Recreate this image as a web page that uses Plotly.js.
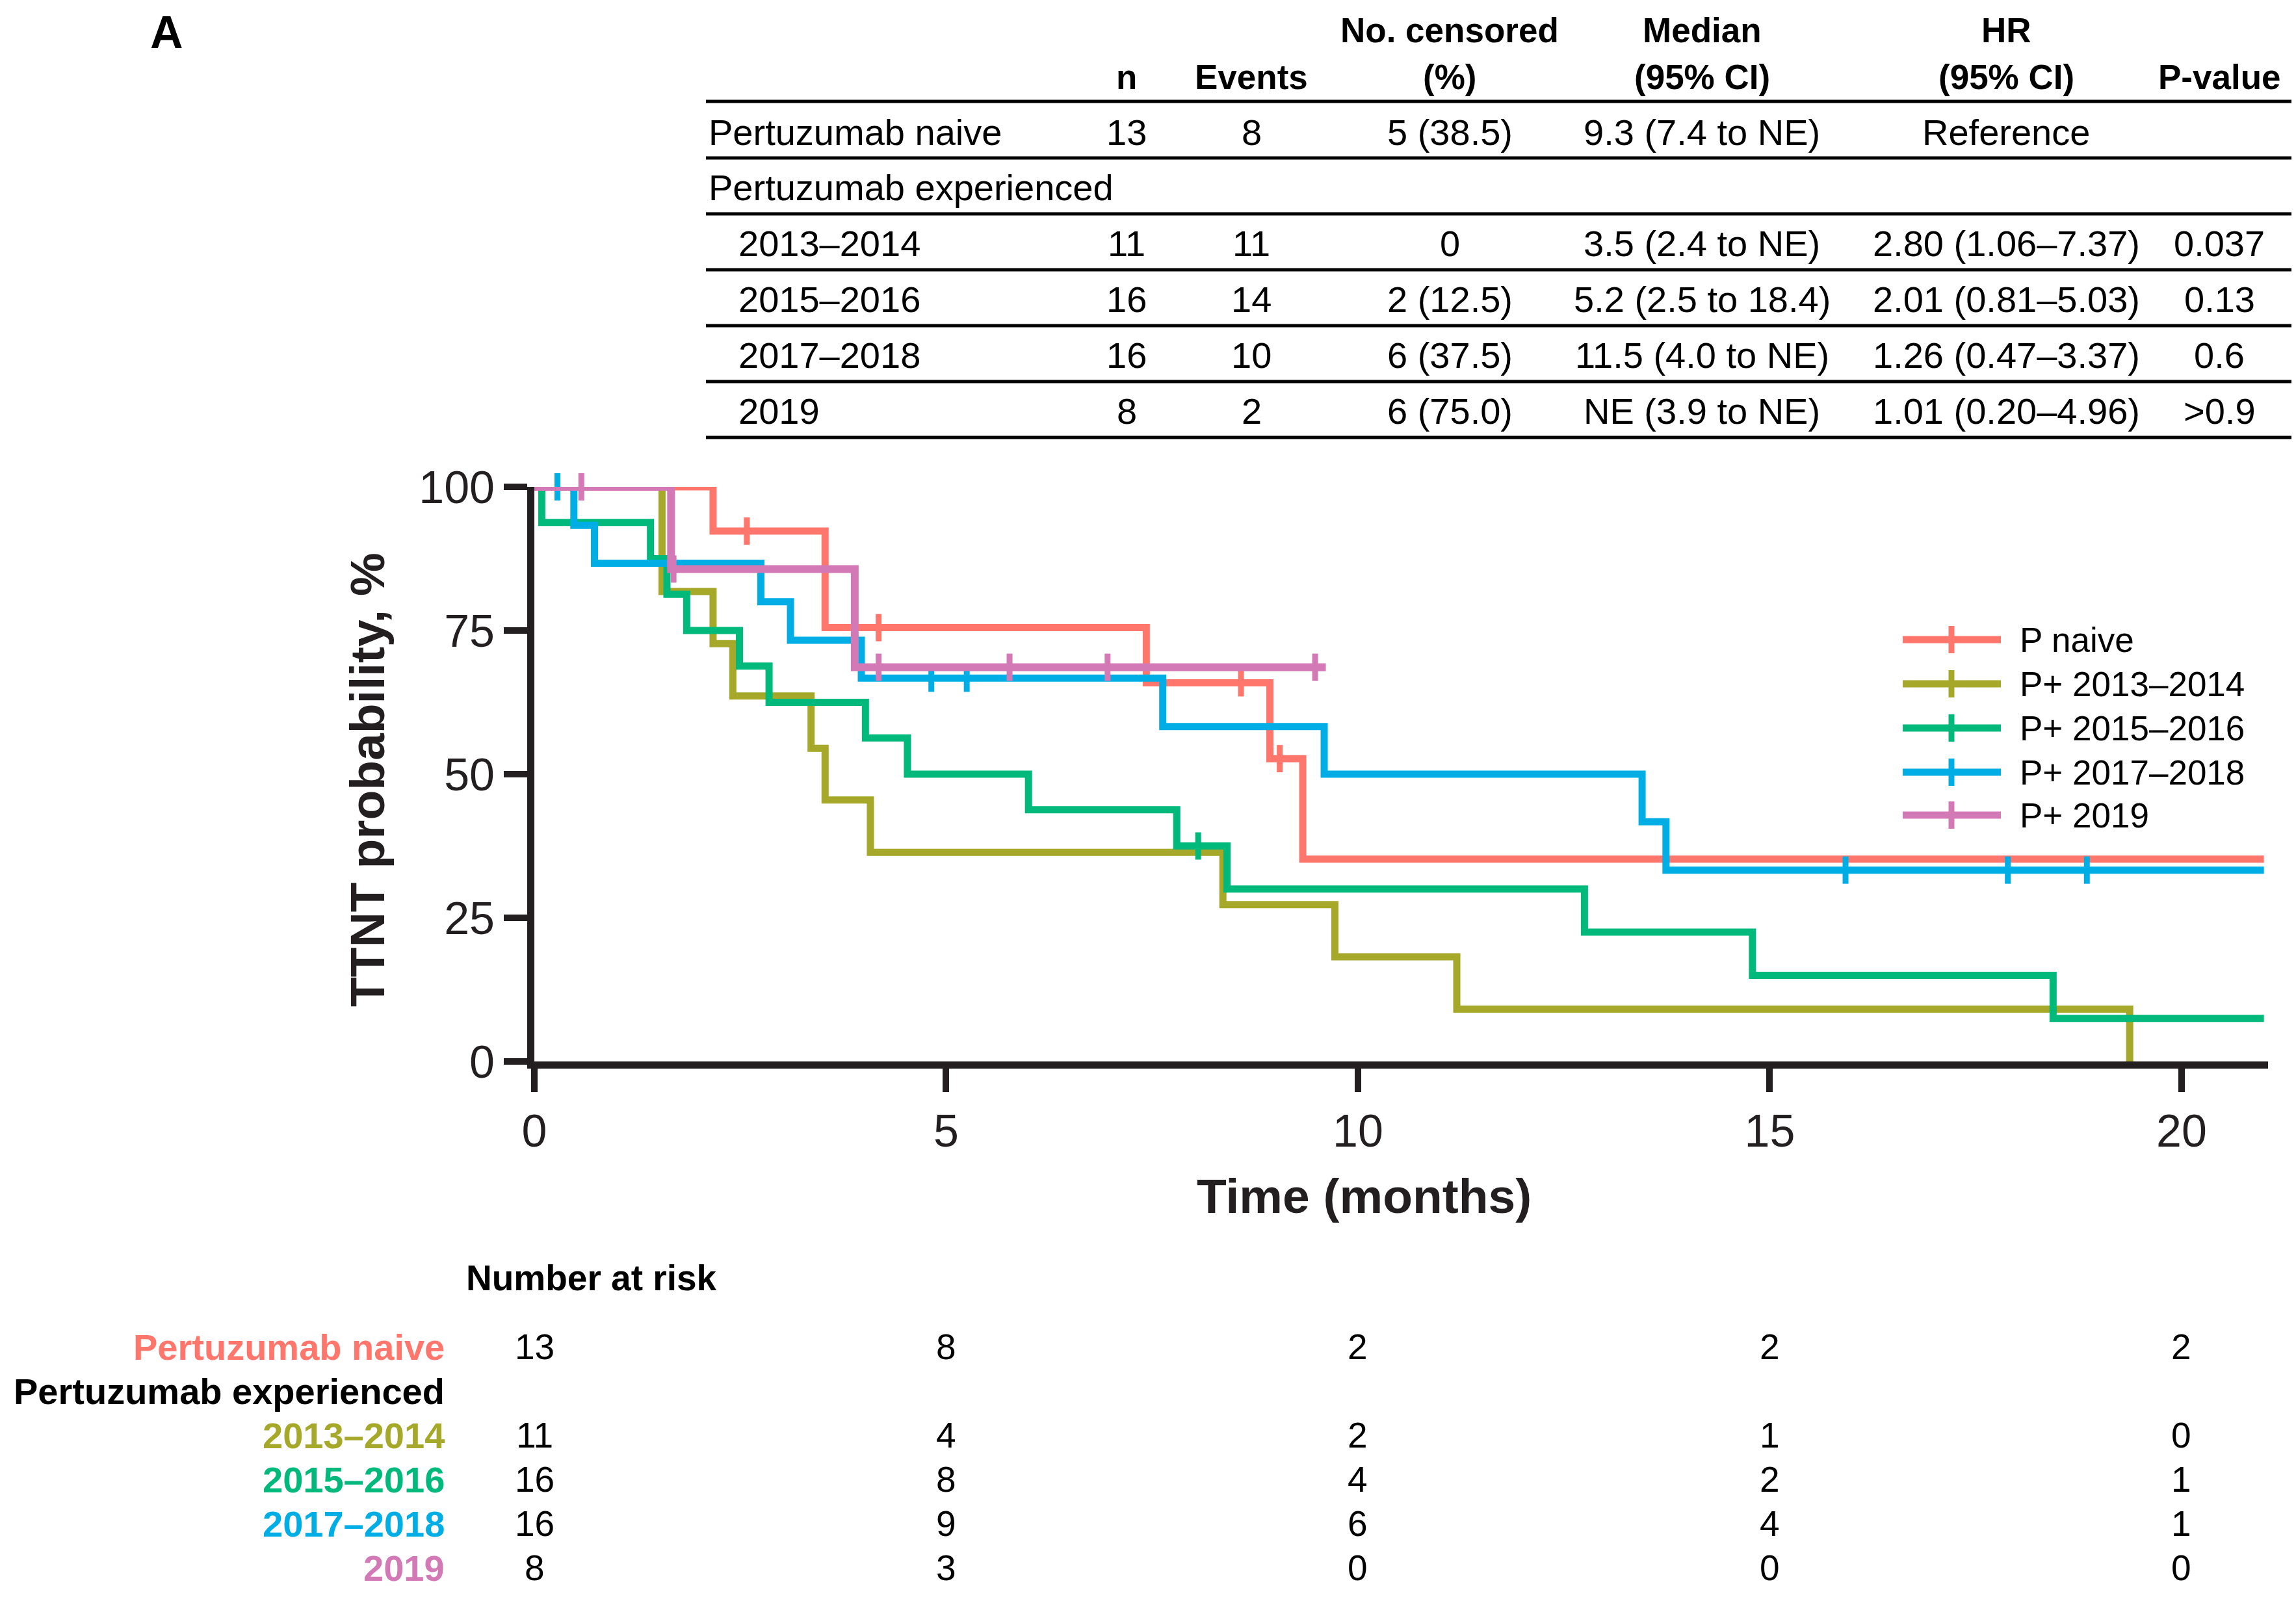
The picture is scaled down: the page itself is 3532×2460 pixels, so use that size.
<!DOCTYPE html>
<html><head><meta charset="utf-8">
<script src="https://cdn.plot.ly/plotly-3.0.1.min.js"></script>
<style>html,body{margin:0;padding:0;background:#fff}</style>
</head><body><div id="chart" style="width:3532px;height:2460px"></div>
<script>
// ---------------- data ----------------
const seriesNames  = ['P naive', 'P+ 2013–2014', 'P+ 2015–2016', 'P+ 2017–2018', 'P+ 2019'];
const riskLabels   = ['Pertuzumab naive', '2013–2014', '2015–2016', '2017–2018', '2019'];
const seriesColors = ['#ff766c', '#a5a829', '#00b97a', '#00aee5', '#d379b5'];

// Kaplan-Meier steps (time in months, TTNT probability %)
const naiveTime = [0, 2.17, 3.53, 7.43, 8.93, 9.33, 21.0];
const naiveSurv = [100, 92.3, 75.5, 65.9, 52.7, 35.2, 35.2];
const naiveCens = [2.58, 4.18, 8.58, 9.05];

const p1314Time = [0, 1.55, 2.17, 2.41, 3.36, 3.53, 4.08, 8.36, 9.72, 11.2, 19.37];
const p1314Surv = [100, 81.8, 72.7, 63.6, 54.5, 45.5, 36.4, 27.3, 18.2, 9.1, 0];
const p1314Cens = [];

const p1516Time = [0, 0.09, 1.41, 1.61, 1.85, 2.49, 2.85, 4.02, 4.53, 6.00, 7.80, 8.41, 12.75, 14.79, 18.44, 21.0];
const p1516Surv = [100, 93.8, 87.5, 81.3, 75.0, 68.8, 62.5, 56.3, 50.0, 43.8, 37.5, 30.0, 22.5, 15.0, 7.5, 7.5];
const p1516Cens = [8.06];

const p1718Time = [0, 0.48, 0.73, 2.75, 3.11, 3.97, 7.63, 9.59, 13.45, 13.74, 21.0];
const p1718Surv = [100, 93.3, 86.7, 80.0, 73.3, 66.7, 58.3, 50.0, 41.7, 33.3, 33.3];
const p1718Cens = [0.28, 4.82, 5.25, 15.92, 17.89, 18.85];

const p2019Time = [0, 1.66, 3.89, 9.61];
const p2019Surv = [100, 85.7, 68.6, 68.6];
const p2019Cens = [0.57, 1.69, 4.18, 5.77, 6.96, 9.48];

// Number at risk
const riskTimes = [0, 5, 10, 15, 20];
const riskNaive = [13, 8, 2, 2, 2];
const risk1314  = [11, 4, 2, 1, 0];
const risk1516  = [16, 8, 4, 2, 1];
const risk1718  = [16, 9, 6, 4, 1];
const risk2019  = [8, 3, 0, 0, 0];

// Summary table
const tabRowLabels = ['Pertuzumab naive', 'Pertuzumab experienced', '2013–2014', '2015–2016', '2017–2018', '2019'];
const tabN         = ['13', '', '11', '16', '16', '8'];
const tabEvents    = ['8', '', '11', '14', '10', '2'];
const tabCensored  = ['5 (38.5)', '', '0', '2 (12.5)', '6 (37.5)', '6 (75.0)'];
const tabMedian    = ['9.3 (7.4 to NE)', '', '3.5 (2.4 to NE)', '5.2 (2.5 to 18.4)', '11.5 (4.0 to NE)', 'NE (3.9 to NE)'];
const tabHR        = ['Reference', '', '2.80 (1.06–7.37)', '2.01 (0.81–5.03)', '1.26 (0.47–3.37)', '1.01 (0.20–4.96)'];
const tabP         = ['', '', '0.037', '0.13', '0.6', '>0.9'];
const tabHeaders1  = ['', '', 'No. censored', 'Median', 'HR', ''];
const tabHeaders2  = ['n', 'Events', '(%)', '(95% CI)', '(95% CI)', 'P-value'];

// ---------------- build ----------------
const FONT = 'Liberation Sans, Arial, Helvetica, sans-serif';
const INK = '#231f20';
const W = 3532, H = 2460, ML = 822, MR = 43, MT = 749, MB = 827;
const PW = W - ML - MR, PH = H - MT - MB;
const px = X => (X - ML) / PW;
const py = Y => (H - MB - Y) / PH;

const allTimes = [naiveTime, p1314Time, p1516Time, p1718Time, p2019Time];
const allSurv  = [naiveSurv, p1314Surv, p1516Surv, p1718Surv, p2019Surv];
const allCens  = [naiveCens, p1314Cens, p1516Cens, p1718Cens, p2019Cens];
const allRisk  = [riskNaive, risk1314, risk1516, risk1718, risk2019];

function stepAt(times, surv, t) {
  let v = surv[0];
  for (let i = 0; i < times.length; i++) if (times[i] <= t) v = surv[i];
  return v;
}

const traces = [];
for (let i = 0; i < seriesNames.length; i++) {
  traces.push({
    type: 'scatter', mode: 'lines', name: seriesNames[i],
    x: allTimes[i], y: allSurv[i],
    line: {shape: 'hv', color: seriesColors[i], width: i === 4 ? 12 : 11},
    cliponaxis: false, showlegend: false, hoverinfo: 'skip'
  });
  traces.push({
    type: 'scatter', mode: 'markers', name: seriesNames[i] + ' censored',
    x: allCens[i], y: allCens[i].map(t => stepAt(allTimes[i], allSurv[i], t)),
    marker: {symbol: 'line-ns', size: 30, color: seriesColors[i], line: {color: seriesColors[i], width: 9}},
    cliponaxis: false, showlegend: false, hoverinfo: 'skip'
  });
}

const shapes = [];
const annotations = [];
function txt(X, Y, text, opts) {
  annotations.push(Object.assign({
    xref: 'paper', yref: 'paper', x: px(X), y: py(Y), text: text, showarrow: false,
    xanchor: 'center', yanchor: 'middle',
    font: {family: FONT, size: 56, color: '#000'}
  }, opts || {}));
}

// Panel label
txt(256, 50, '<b>A</b>', {font: {family: FONT, size: 70, color: '#000'}});

// Axis titles
txt(2098, 1840, '<b>Time (months)</b>', {font: {family: FONT, size: 75, color: INK}});
txt(565, 1200, '<b>TTNT probability, %</b>', {textangle: -90, font: {family: FONT, size: 75, color: INK}});

// Legend (custom)
const legRowsY = [984, 1052, 1120, 1188, 1254];
for (let i = 0; i < seriesNames.length; i++) {
  const Y = legRowsY[i];
  shapes.push({type: 'line', xref: 'paper', yref: 'paper', x0: px(2927), x1: px(3078), y0: py(Y), y1: py(Y),
    line: {color: seriesColors[i], width: 11}});
  shapes.push({type: 'line', xref: 'paper', yref: 'paper', x0: px(3002), x1: px(3002), y0: py(Y - 21), y1: py(Y + 21),
    line: {color: seriesColors[i], width: 9}});
  txt(3105, Y, seriesNames[i], {xanchor: 'left', font: {family: FONT, size: 53, color: '#000'}});
}

// Table
const colX = [1733, 1925, 2230, 2618, 3086, 3414];
const colData = [tabN, tabEvents, tabCensored, tabMedian, tabHR, tabP];
const rowY = [203, 288, 375, 460, 546, 632];
const ruleY = [156, 243, 329, 415, 501, 587, 673];
for (let c = 0; c < colX.length; c++) {
  if (tabHeaders1[c]) txt(colX[c], 47, '<b>' + tabHeaders1[c] + '</b>', {font: {family: FONT, size: 53, color: '#000'}});
  txt(colX[c], 118, '<b>' + tabHeaders2[c] + '</b>', {font: {family: FONT, size: 53, color: '#000'}});
  for (let r = 0; r < rowY.length; r++) {
    if (colData[c][r]) txt(colX[c], rowY[r], colData[c][r]);
  }
}
for (let r = 0; r < rowY.length; r++) {
  txt(r < 2 ? 1088 : 1134, rowY[r], tabRowLabels[r], {xanchor: 'left'});
}
for (const Y of ruleY) {
  shapes.push({type: 'line', xref: 'paper', yref: 'paper', x0: px(1086), x1: px(3525), y0: py(Y), y1: py(Y),
    line: {color: '#000', width: 5}});
}

// Number at risk
txt(715, 1966, '<b>Number at risk</b>', {xanchor: 'left', font: {family: FONT, size: 55, color: '#000'}});
const riskRowY = [2072, 2208, 2276, 2344, 2412];
txt(686, 2140, '<b>Pertuzumab experienced</b>', {xanchor: 'right', font: {family: FONT, size: 56, color: '#000'}});
for (let i = 0; i < riskLabels.length; i++) {
  txt(686, riskRowY[i], '<b>' + riskLabels[i] + '</b>', {xanchor: 'right', font: {family: FONT, size: 56, color: seriesColors[i]}});
  for (let k = 0; k < riskTimes.length; k++) {
    annotations.push({xref: 'x', yref: 'paper', x: riskTimes[k], y: py(riskRowY[i]), text: String(allRisk[i][k]),
      showarrow: false, xanchor: 'center', yanchor: 'middle', font: {family: FONT, size: 55, color: '#000'}});
  }
}

const layout = {
  width: W, height: H,
  margin: {l: ML, r: MR, t: MT, b: MB, pad: 0},
  paper_bgcolor: '#fff', plot_bgcolor: '#fff',
  showlegend: false,
  xaxis: {
    range: [0, 21.05], tickmode: 'array', tickvals: riskTimes, ticktext: riskTimes.map(String),
    showgrid: false, zeroline: false, showline: true, linecolor: INK, linewidth: 11,
    ticks: 'outside', ticklen: 36, tickwidth: 10, tickcolor: INK,
    tickfont: {family: FONT, size: 70, color: INK}, fixedrange: true
  },
  yaxis: {
    range: [0, 100], tickmode: 'array', tickvals: [0, 25, 50, 75, 100],
    showgrid: false, zeroline: false, showline: true, linecolor: INK, linewidth: 11,
    ticks: 'outside', ticklen: 36, tickwidth: 10, tickcolor: INK,
    tickfont: {family: FONT, size: 70, color: INK}, fixedrange: true
  },
  shapes: shapes,
  annotations: annotations
};

Plotly.newPlot('chart', traces, layout, {staticPlot: true, displayModeBar: false});
</script>
</body></html>
